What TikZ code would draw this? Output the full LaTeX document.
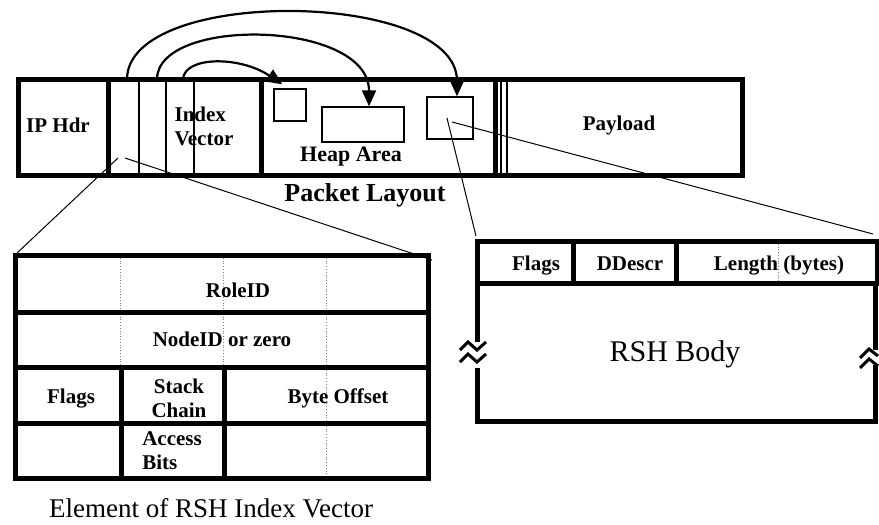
\documentclass[tikz,border=0pt]{standalone}
\usepackage{fontspec}
\setmainfont{Liberation Serif}
\usetikzlibrary{arrows.meta}
\tikzset{
  lbl/.style={font=\fontsize{21}{24}\selectfont\bfseries, align=center, inner sep=0pt},
  frame/.style={line width=5pt},
  thin/.style={line width=1.4pt},
  zoomline/.style={line width=1pt},
  dotline/.style={line width=0.8pt, dotted, gray},
  ptr/.style={line width=2.2pt, -{Triangle[length=16pt,width=14pt]}},
  brk/.style={line width=3pt},
  heapbox/.style={draw, thin, inner sep=0pt},
}
\begin{document}
\begin{tikzpicture}[x=1pt,y=-1pt]
\useasboundingbox (0,0) rectangle (879,525);
% packet layout
\draw[frame] (18,79) rectangle (742,175);
\draw[frame] (108,79) -- (108,175) (261,79) -- (261,175) (495,79) -- (495,175);
\draw[thin] (139,79) -- (139,175) (166,79) -- (166,175) (194,79) -- (194,175)
  (501,79) -- (501,175) (507,79) -- (507,175);
\node[heapbox, minimum width=32pt, minimum height=32pt] (hp1) at (290,105) {};
\node[heapbox, minimum width=82pt, minimum height=35pt] (hp2) at (363,124.5) {};
\node[heapbox, minimum width=46pt, minimum height=42pt] (hp3) at (450,118) {};
\node[lbl] (iphdr) at (58,125) {IP Hdr};
\node[lbl, align=left] (idxvec) at (204,126) {Index\\Vector};
\node[lbl, font=\fontsize{22}{24}\selectfont\bfseries] (heap) at (351,157) {Heap Area};
\node[lbl] (payload) at (619,125) {Payload};
\node[lbl, font=\fontsize{26}{28}\selectfont\bfseries] (pktlayout) at (365,195) {Packet Layout};
% pointers from the index vector
\coordinate (v1) at (127,79);
\coordinate (v2) at (157,79);
\coordinate (v3) at (183,79);
\draw[ptr] (v1) .. controls (128,-14) and (457,-10) .. ([xshift=7pt]hp3.north);
\draw[ptr] (v2) .. controls (158,16) and (369,20) .. ([xshift=6pt]hp2.north);
\draw[ptr] (v3) .. controls (185,56) and (240,56) .. ([xshift=9pt,yshift=4pt]hp1.north west);
% element of index vector
\coordinate (ivA) at (118,158);
\coordinate (ivB) at (125,158);
\coordinate (elNW) at (17,253);
\coordinate (elNE) at (432,260);
\draw[zoomline] (ivA) -- (elNW) (ivB) -- (elNE);
\draw[dotline] (120,255) -- (120,367) (223,255) -- (223,367) (326,255) -- (326,478);
\draw[frame] (15,255) rectangle (428,478);
\draw[frame] (15,312) -- (428,312) (15,367) -- (428,367) (15,423) -- (428,423);
\draw[frame] (121,367) -- (121,478) (224,367) -- (224,478);
\node[lbl] (roleid) at (238,290) {RoleID};
\node[lbl] (nodeid) at (222,339) {NodeID or zero};
\node[lbl] (elflags) at (71,399) {Flags};
\node[lbl] (stack) at (179,398) {Stack\\Chain};
\node[lbl] (offset) at (338,398) {Byte Offset};
\node[lbl, align=left] (access) at (172,451) {Access\\Bits};
\node[font=\fontsize{27}{30}\selectfont, anchor=base] (elcap) at (211,517) {Element of RSH Index Vector};
% RSH header
\coordinate (hbA) at (447,118);
\coordinate (hbB) at (452,122);
\coordinate (rshNW) at (476,236);
\coordinate (rshNE) at (873,234);
\draw[zoomline] (hbA) -- (rshNW) (hbB) -- (rshNE);
\draw[dotline] (778,241) -- (778,283);
\draw[frame] (477,241) rectangle (877,283);
\draw[frame] (573,241) -- (573,283) (676,241) -- (676,283);
\draw[frame] (477,283) -- (477,342) (477,368) -- (477,421) -- (875,421) -- (875,365)
  (875,350) -- (875,283);
\draw[brk] (460,350) -- (468,342) -- (477,350) -- (486,342)
  (460,362) -- (468,354) -- (477,362) -- (486,354);
\draw[brk] (860,358) -- (869,349) -- (878,356) (860,368) -- (869,359) -- (878,366);
\node[lbl, anchor=base] (rshflags) at (536,270) {Flags};
\node[lbl, anchor=base] (ddescr) at (630,270) {DDescr};
\node[lbl, anchor=base] (length) at (779,270) {Length (bytes)};
\node[font=\fontsize{30}{32}\selectfont] (rshbody) at (675,354) {RSH Body};
\end{tikzpicture}
\end{document}
